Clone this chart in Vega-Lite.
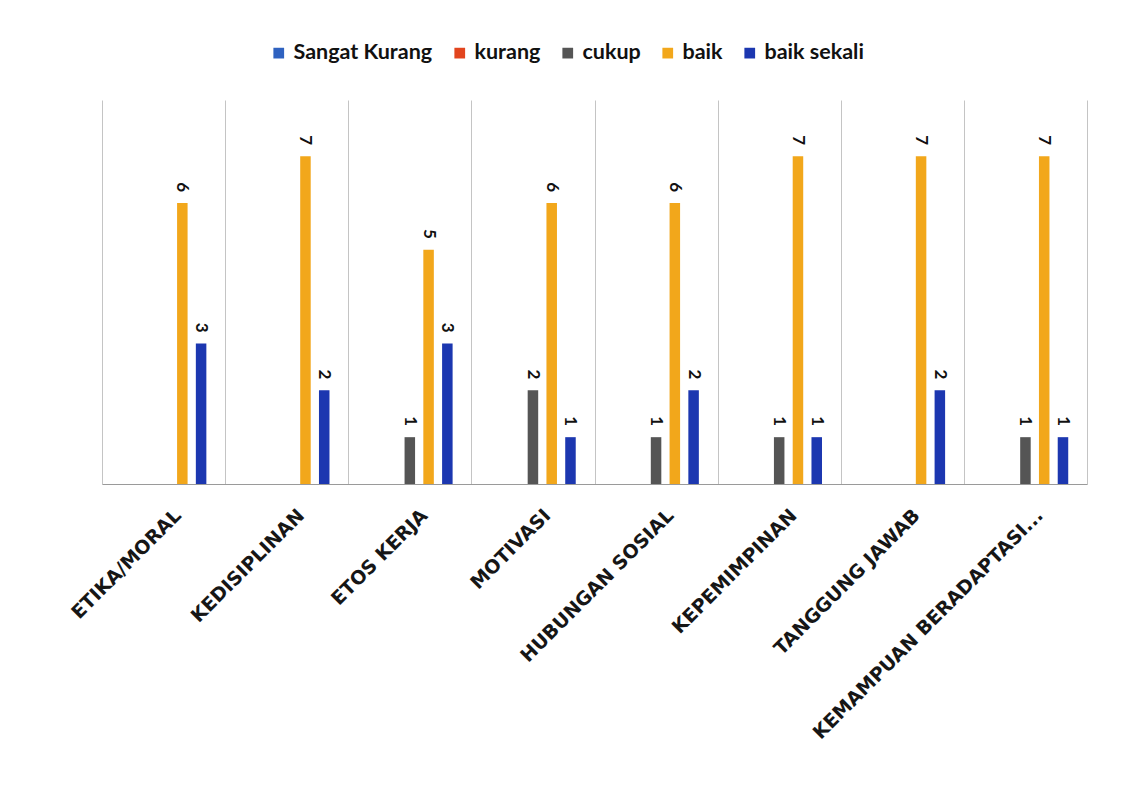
{
  "$schema": "https://vega.github.io/schema/vega-lite/v6.json",
  "autosize": {"type": "none"},
  "width": 985,
  "height": 384,
  "padding": {"left": 102, "top": 100, "right": 49, "bottom": 305},
  "background": "white",
  "config": {
    "view": {"stroke": null},
    "font": "Lato"
  },
  "data": {
    "values": [
      {"aspek": "ETIKA/MORAL", "kategori": "baik", "jumlah": 6},
      {"aspek": "ETIKA/MORAL", "kategori": "baik sekali", "jumlah": 3},
      {"aspek": "KEDISIPLINAN", "kategori": "baik", "jumlah": 7},
      {"aspek": "KEDISIPLINAN", "kategori": "baik sekali", "jumlah": 2},
      {"aspek": "ETOS KERJA", "kategori": "cukup", "jumlah": 1},
      {"aspek": "ETOS KERJA", "kategori": "baik", "jumlah": 5},
      {"aspek": "ETOS KERJA", "kategori": "baik sekali", "jumlah": 3},
      {"aspek": "MOTIVASI", "kategori": "cukup", "jumlah": 2},
      {"aspek": "MOTIVASI", "kategori": "baik", "jumlah": 6},
      {"aspek": "MOTIVASI", "kategori": "baik sekali", "jumlah": 1},
      {"aspek": "HUBUNGAN SOSIAL", "kategori": "cukup", "jumlah": 1},
      {"aspek": "HUBUNGAN SOSIAL", "kategori": "baik", "jumlah": 6},
      {"aspek": "HUBUNGAN SOSIAL", "kategori": "baik sekali", "jumlah": 2},
      {"aspek": "KEPEMIMPINAN", "kategori": "cukup", "jumlah": 1},
      {"aspek": "KEPEMIMPINAN", "kategori": "baik", "jumlah": 7},
      {"aspek": "KEPEMIMPINAN", "kategori": "baik sekali", "jumlah": 1},
      {"aspek": "TANGGUNG JAWAB", "kategori": "baik", "jumlah": 7},
      {"aspek": "TANGGUNG JAWAB", "kategori": "baik sekali", "jumlah": 2},
      {"aspek": "KEMAMPUAN BERADAPTASI...", "kategori": "cukup", "jumlah": 1},
      {"aspek": "KEMAMPUAN BERADAPTASI...", "kategori": "baik", "jumlah": 7},
      {"aspek": "KEMAMPUAN BERADAPTASI...", "kategori": "baik sekali", "jumlah": 1}
    ]
  },
  "encoding": {
    "x": {
      "field": "aspek",
      "type": "nominal",
      "sort": null,
      "scale": {"paddingInner": 0, "paddingOuter": 0},
      "axis": {
        "title": null,
        "labelAngle": -45,
        "labelAlign": "right",
        "labelBaseline": "middle",
        "labelFont": "DejaVu Sans",
        "labelFontWeight": "bold",
        "labelFontSize": 19,
        "labelColor": "#161616",
        "labelPadding": 28,
        "labelOffset": 14,
        "labelLimit": 500,
        "ticks": false,
        "grid": true,
        "tickBand": "extent",
        "gridColor": "#c4c4c4",
        "gridWidth": 1,
        "domainColor": "#9a9a9a",
        "domainWidth": 1.2
      }
    },
    "xOffset": {
      "field": "kategori",
      "type": "nominal",
      "scale": {
        "domain": ["Sangat Kurang", "kurang", "cukup", "baik", "baik sekali"],
        "paddingInner": 0.44,
        "paddingOuter": 1.14
      }
    },
    "y": {
      "field": "jumlah",
      "type": "quantitative",
      "scale": {"domain": [0, 8.2], "nice": false},
      "axis": null
    }
  },
  "layer": [
    {
      "mark": {"type": "bar"},
      "encoding": {
        "color": {
          "field": "kategori",
          "type": "nominal",
          "scale": {
            "domain": ["Sangat Kurang", "kurang", "cukup", "baik", "baik sekali"],
            "range": ["#2f62c0", "#e2451e", "#555555", "#f2a71b", "#1c37b0"]
          },
          "legend": {
            "title": null,
            "orient": "none",
            "direction": "horizontal",
            "legendX": 166,
            "legendY": -58,
            "symbolType": "square",
            "symbolSize": 115,
            "symbolStrokeWidth": 0,
            "labelFont": "Lato",
            "labelFontWeight": "bold",
            "labelFontSize": 21.5,
            "labelColor": "#111111",
            "labelOffset": 4,
            "columnPadding": 16
          }
        }
      }
    },
    {
      "mark": {
        "type": "text",
        "angle": 90,
        "align": "right",
        "baseline": "middle",
        "dx": -11,
        "font": "Lato",
        "fontWeight": "bold",
        "fontSize": 17,
        "color": "#111111"
      },
      "encoding": {
        "text": {"field": "jumlah", "type": "quantitative"}
      }
    }
  ]
}
